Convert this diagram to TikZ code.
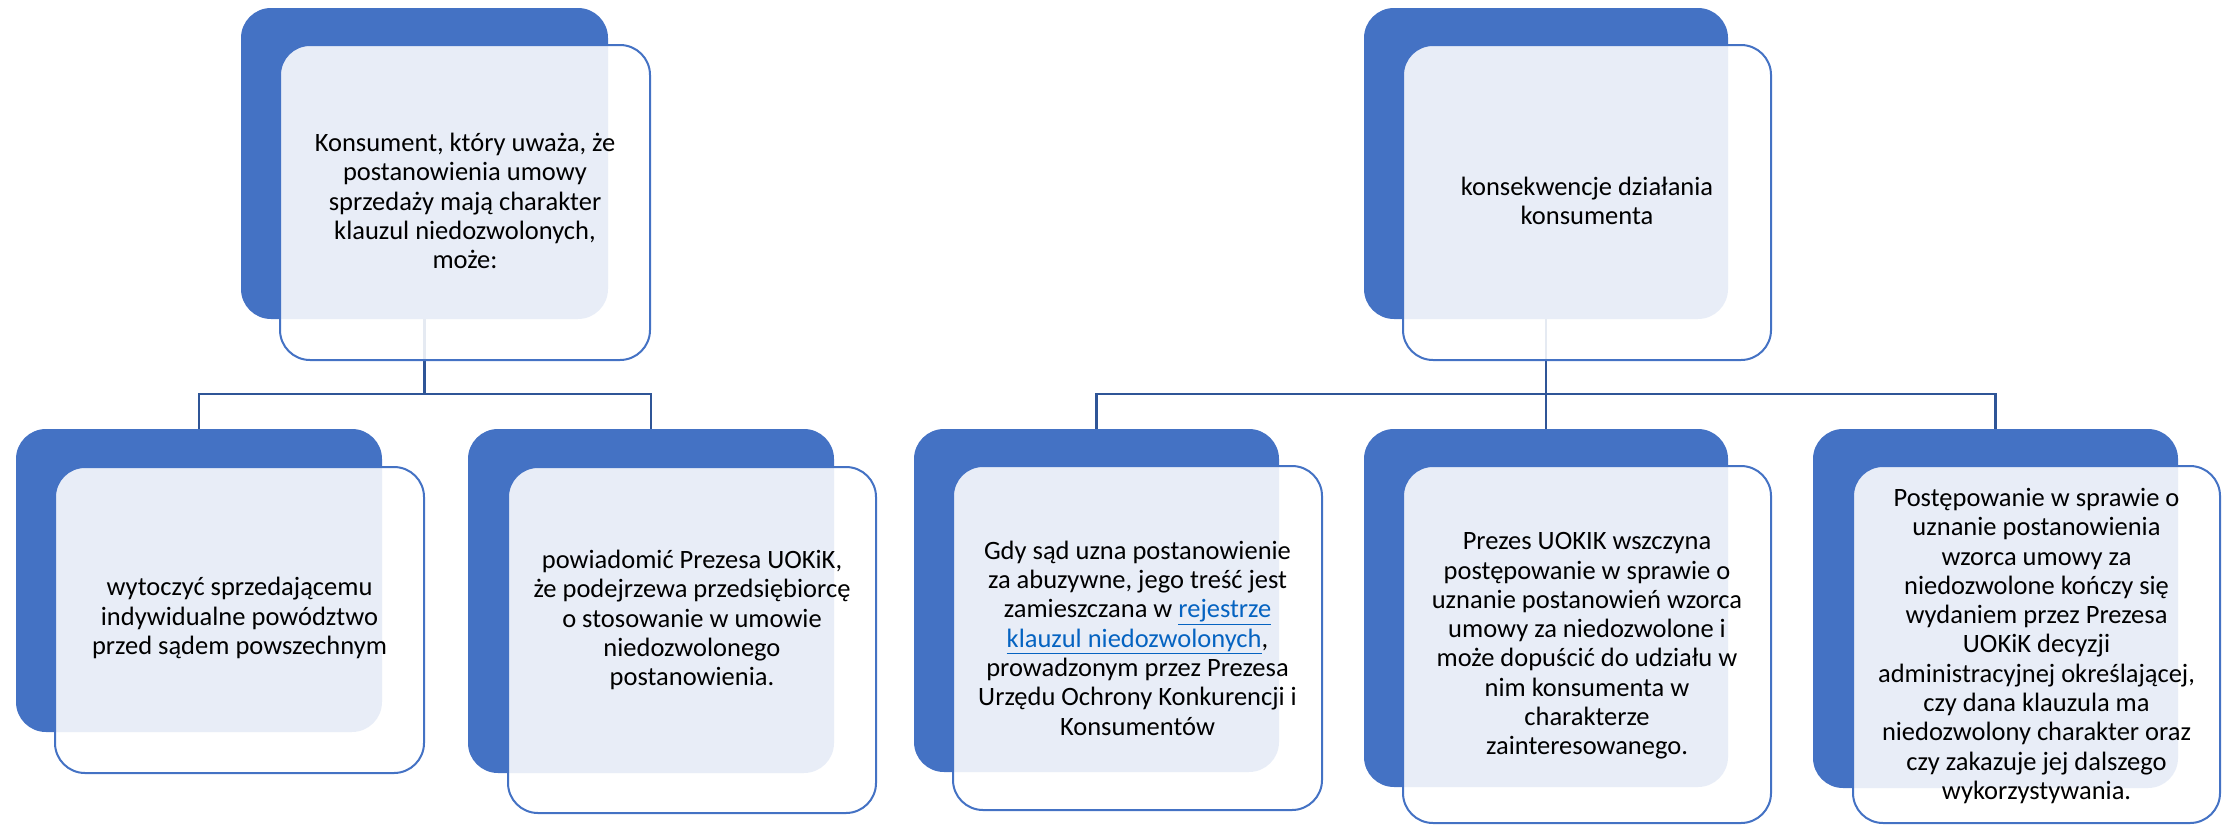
\documentclass[tikz,border=0pt]{standalone}
\usepackage{fontspec}
\setmainfont{Carlito}
\usetikzlibrary{backgrounds}
\definecolor{accblue}{HTML}{4472C4}
\definecolor{connblue}{HTML}{2F5597}
\definecolor{linkblue}{HTML}{0563C1}

\begin{document}
\begin{tikzpicture}[x=1pt, y=-1pt,
    backbox/.style={fill=accblue, rounded corners=30pt, inner sep=0pt},
    frontbox/.style={draw=accblue, line width=2pt, fill=white, fill opacity=0.88, rounded corners=30pt, inner sep=0pt},
    txt/.style={align=center, inner sep=0pt, font=\fontsize{26.5}{29.3}\selectfont},
    conn/.style={draw=connblue, line width=2.6pt}]
      \useasboundingbox (0,0) rectangle (2223,827);

      % left tree
      \node[backbox, minimum width=367, minimum height=311] (p1b) at (424.5,163.5) {};
      \node[frontbox, minimum width=370, minimum height=315] (p1f) at (465,202.5) {};
      \node[txt] (p1t) at (465,201) {Konsument, który uważa, że\\postanowienia umowy\\sprzedaży mają charakter\\klauzul niedozwolonych,\\może:};

      \node[backbox, minimum width=366, minimum height=303] (c1b) at (199,580.5) {};
      \node[frontbox, minimum width=369, minimum height=306] (c1f) at (239.5,620) {};
      \node[txt] (c1t) at (239.5,618) {wytoczyć sprzedającemu\\indywidualne powództwo\\przed sądem powszechnym};

      \node[backbox, minimum width=366, minimum height=344] (c2b) at (651,601) {};
      \node[frontbox, minimum width=368, minimum height=346] (c2f) at (692,640) {};
      \node[txt] (c2t) at (692,620) {powiadomić Prezesa UOKiK,\\że podejrzewa przedsiębiorcę\\o stosowanie w umowie\\niedozwolonego\\postanowienia.};

      % right tree
      \node[backbox, minimum width=364, minimum height=311] (p2b) at (1546,163.5) {};
      \node[frontbox, minimum width=368, minimum height=315] (p2f) at (1587,202.5) {};
      \node[txt] (p2t) at (1587,201) {konsekwencje działania\\konsumenta};

      \node[backbox, minimum width=365, minimum height=343] (c3b) at (1096.5,600.5) {};
      \node[frontbox, minimum width=369, minimum height=344] (c3f) at (1137.5,638) {};
      \node[txt] (c3t) at (1137.5,638) {Gdy sąd uzna postanowienie\\za abuzywne, jego treść jest\\zamieszczana w {\color{linkblue}\underline{rejestrze}}\\{\color{linkblue}\underline{klauzul niedozwolonych}},\\prowadzonym przez Prezesa\\Urzędu Ochrony Konkurencji i\\Konsumentów};

      \node[backbox, minimum width=364, minimum height=358] (c4b) at (1546,608) {};
      \node[frontbox, minimum width=368, minimum height=357] (c4f) at (1587,644.5) {};
      \node[txt] (c4t) at (1587,646) {Prezes UOKIK wszczyna\\postępowanie w sprawie o\\uznanie postanowień wzorca\\umowy za niedozwolone i\\może dopuścić do udziału w\\nim konsumenta w\\charakterze\\zainteresowanego.};

      \node[backbox, minimum width=365, minimum height=359] (c5b) at (1995.5,608.5) {};
      \node[frontbox, minimum width=367, minimum height=357] (c5f) at (2036.5,644.5) {};
      \node[txt] (c5t) at (2036.5,646) {Postępowanie w sprawie o\\uznanie postanowienia\\wzorca umowy za\\niedozwolone kończy się\\wydaniem przez Prezesa\\UOKiK decyzji\\administracyjnej określającej,\\czy dana klauzula ma\\niedozwolony charakter oraz\\czy zakazuje jej dalszego\\wykorzystywania.};

      \coordinate (bus1) at (424.5,394);
      \coordinate (bus2) at (1546,394);

      \begin{scope}[on background layer]
        \draw[conn] (p1b.south) -- (bus1);
        \draw[conn] (c1b.north) |- (bus1) -| (c2b.north);
        \draw[conn] (p2b.south) -- (c4b.north);
        \draw[conn] (c3b.north) |- (bus2) -| (c5b.north);
      \end{scope}
    \end{tikzpicture}
\end{document}
